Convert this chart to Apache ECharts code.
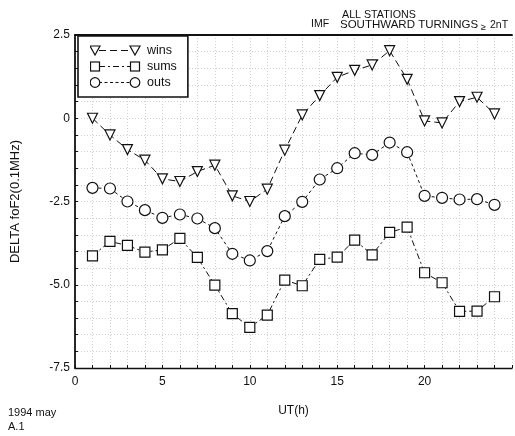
<!DOCTYPE html>
<html><head><meta charset="utf-8">
<script src="https://cdn.jsdelivr.net/npm/echarts@6/dist/echarts.min.js"></script>
<style>html,body{margin:0;padding:0;background:#fff}#c{width:515px;height:436px}</style>
</head><body><div id="c"></div>
<script>
const hours = [1,2,3,4,5,6,7,8,9,10,11,12,13,14,15,16,17,18,19,20,21,22,23,24];
const wins = [0.0,-0.5,-0.94,-1.26,-1.82,-1.9,-1.6,-1.41,-2.33,-2.5,-2.13,-0.96,0.1,0.68,1.23,1.44,1.6,2.03,1.17,-0.08,-0.14,0.5,0.63,0.13];
const sums = [-4.13,-3.7,-3.82,-4.02,-3.95,-3.61,-4.18,-5.01,-5.87,-6.28,-5.91,-4.86,-5.03,-4.24,-4.17,-3.66,-4.1,-3.43,-3.27,-4.64,-4.94,-5.8,-5.79,-5.36];
const outs = [-2.09,-2.11,-2.5,-2.76,-2.99,-2.89,-3.01,-3.3,-4.07,-4.27,-3.99,-2.94,-2.51,-1.84,-1.5,-1.05,-1.1,-0.73,-1.02,-2.33,-2.39,-2.44,-2.43,-2.6];
const xTickLabels = [0,5,10,15,20];
const yTickLabels = [2.5,0,-2.5,-5.0,-7.5];

const FONT = "'Liberation Sans',Arial,sans-serif";
const pair = a => hours.map((h,i)=>[h,a[i]]);
const mk = (name, data, symbol, rot, dash, size) => ({
  name, type:'line', data: pair(data), symbol, symbolRotate: rot, symbolSize: size,
  showSymbol:true, animation:false, xAxisIndex:0,
  lineStyle:{color:'#111', width:1, type:dash},
  itemStyle:{color:'#fff', borderColor:'#111', borderWidth:1.2}
});
// legend icons: symbol - - - symbol, like the original
function icon(shapeFn, dash){
  const svg = `<svg xmlns="http://www.w3.org/2000/svg" width="52" height="12" viewBox="0 0 52 12">`+
    `<line x1="9" y1="6" x2="41" y2="6" stroke="#111" stroke-width="1" stroke-dasharray="${dash}"/>`+
    shapeFn(5) + shapeFn(45) + `</svg>`;
  return 'image://data:image/svg+xml;utf8,' + encodeURIComponent(svg);
}
const tri = cx => `<path d="M${cx-5},1.5 L${cx+5},1.5 L${cx},10.5 Z" fill="#fff" stroke="#111" stroke-width="1.2"/>`;
const sq = cx => `<rect x="${cx-4.5}" y="1.5" width="9" height="9" fill="#fff" stroke="#111" stroke-width="1.2"/>`;
const ci = cx => `<circle cx="${cx}" cy="6" r="4.8" fill="#fff" stroke="#111" stroke-width="1.2"/>`;

const chart = echarts.init(document.getElementById('c'));
const tStyle = s => ({fontFamily:FONT, fontSize:s, fontWeight:'normal', color:'#111'});
const T = (text, left, top, size) => ({text, left, top, padding:0, textStyle:tStyle(size)});
chart.setOption({
  backgroundColor:'#fff',
  animation:false,
  title:[
    T('ALL STATIONS', 342, 10, 10.7),
    T('IMF', 311, 19, 10.5),
    T('SOUTHWARD TURNINGS', 340, 19, 11.5),
    T('≥', 481, 23, 9),
    T('2nT', 490, 20, 10.5),
    T('1994 may', 8, 407, 11),
    T('A.1', 8, 421, 11)
  ],
  legend:{
    left:78, top:36, orient:'vertical', itemGap:3, itemWidth:52, itemHeight:12,
    padding:[8,11,8,12], borderColor:'#111', borderWidth:1.6, backgroundColor:'#fff',
    textStyle:{fontFamily:FONT, fontSize:12.5, color:'#111'},
    data:[
      {name:'wins', icon:icon(tri,'7,4')},
      {name:'sums', icon:icon(sq,'6,3,2,3')},
      {name:'outs', icon:icon(ci,'3,2.5')}
    ]
  },
  grid:{left:75, right:0, top:35, bottom:68},
  xAxis:[{
    type:'value', min:0, max:25, interval:1,
    name:'UT(h)', nameLocation:'middle', nameGap:37,
    nameTextStyle:tStyle(12),
    axisLine:{show:true, onZero:false, lineStyle:{color:'#111', width:1.4}},
    axisTick:{show:true, inside:true, length:3, lineStyle:{color:'#111'}},
    axisLabel:{fontFamily:FONT, fontSize:12, color:'#111', margin:8,
      formatter:v=> xTickLabels.includes(v) ? String(v) : ''},
    splitLine:{show:true, lineStyle:{color:'#cfcfcf', type:[1,2], width:1}}
  },{
    type:'value', position:'top', min:0, max:25, interval:1,
    axisLine:{show:true, onZero:false, lineStyle:{color:'#111', width:1.8}},
    axisTick:{show:false}, axisLabel:{show:false}, splitLine:{show:false}
  }],
  yAxis:{
    type:'value', min:-7.5, max:2.5, interval:0.5,
    name:'DELTA foF2(0.1MHz)', nameLocation:'middle', nameGap:53, nameRotate:90,
    nameTextStyle:tStyle(13),
    axisLine:{show:true, onZero:false, lineStyle:{color:'#111', width:1.8}},
    axisTick:{show:true, inside:true, length:3, lineStyle:{color:'#111'}},
    axisLabel:{fontFamily:FONT, fontSize:12, color:'#111', margin:5,
      formatter:v=>{ const m = yTickLabels.find(t=>Math.abs(t-v)<1e-9); return m===undefined ? '' : (m===0 ? '0' : m.toFixed(1)); }},
    splitLine:{show:true, lineStyle:{color:'#cfcfcf', type:[1,2], width:1}}
  },
  series:[
    mk('wins', wins, 'triangle', 180, [7,4], 10),
    mk('sums', sums, 'rect', 0, [6,3,2,3], 10),
    mk('outs', outs, 'circle', 0, [3,3], 11)
  ]
});
</script></body></html>
